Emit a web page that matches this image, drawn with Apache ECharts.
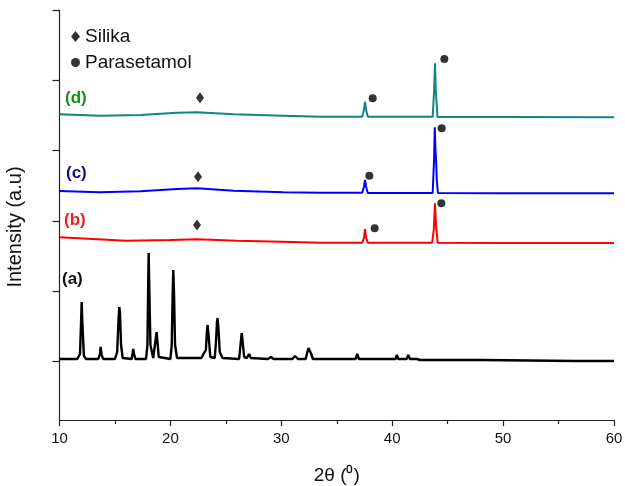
<!DOCTYPE html>
<html>
<head>
<meta charset="utf-8">
<script src="https://cdn.jsdelivr.net/npm/echarts@6/dist/echarts.min.js"></script>
<style>
  html, body { margin: 0; padding: 0; background: #fff; }
  #chart { width: 625px; height: 486px; }
</style>
</head>
<body>
<div id="chart"></div>
<script>
// X-ray diffraction patterns, stacked with a vertical offset per sample.
// Each entry is [2θ (degrees), intensity (a.u.)].

// (a) pure paracetamol
const patternA = [
  [10.0, 61], [11.6, 61], [11.85, 66], [11.95, 100], [12.0, 118], [12.07, 95], [12.2, 64], [12.4, 61],
  [13.5, 61], [13.64, 66], [13.71, 73], [13.8, 65], [13.95, 61],
  [15.0, 61], [15.2, 68], [15.32, 100], [15.39, 113], [15.45, 108], [15.55, 75], [15.7, 62],
  [16.5, 61], [16.6, 67], [16.65, 71], [16.72, 66], [16.85, 61],
  [17.8, 61], [17.93, 75], [17.99, 130], [18.04, 167], [18.1, 130], [18.2, 75], [18.45, 62],
  [18.6, 64], [18.71, 84], [18.76, 88], [18.82, 80], [18.95, 63],
  [20.0, 61], [20.12, 75], [20.2, 125], [20.26, 150], [20.32, 130], [20.42, 75], [20.6, 62],
  [22.8, 62], [22.98, 66], [23.06, 68], [23.2, 70], [23.3, 90], [23.36, 95], [23.44, 85], [23.6, 63],
  [24.0, 62], [24.12, 80], [24.2, 98], [24.25, 102], [24.32, 94], [24.45, 68], [24.7, 62],
  [26.2, 61], [26.32, 75], [26.43, 87], [26.5, 80], [26.65, 63],
  [26.9, 62], [27.09, 66], [27.25, 62],
  [28.8, 61], [29.07, 63], [29.3, 61],
  [31.0, 61], [31.24, 64], [31.5, 61],
  [32.2, 61], [32.35, 68], [32.45, 72], [32.6, 71], [32.7, 66], [32.85, 61],
  [35.9, 61], [36.04, 63], [36.2, 61], [36.7, 61], [36.85, 66], [37.0, 61],
  [37.55, 61], [37.64, 62], [37.75, 61], [38.35, 61], [38.45, 63], [38.6, 61],
  [38.8, 61], [38.9, 63], [39.05, 61],
  [40.3, 61], [40.42, 65], [40.55, 61], [41.3, 61], [41.45, 65], [41.6, 61],
  [42.25, 61], [42.35, 63], [42.5, 60],
  [45.0, 60], [45.15, 62], [45.3, 60], [46.1, 60], [46.2, 62], [46.35, 60],
  [47.8, 60], [47.9, 61], [48.1, 60], [56.5, 59], [56.6, 61], [56.75, 59], [60.0, 59]
];

// (b) silica loaded with paracetamol, sample 1
const patternB = [
  [10.0, 182.7], [13.0, 181], [16.0, 179.3], [20.0, 180], [22.4, 180.7], [26.0, 179.3],
  [30.0, 178.3], [33.5, 177.3], [37.3, 177.3], [37.45, 182], [37.55, 191], [37.65, 182], [37.8, 177.3],
  [43.6, 177.2], [43.75, 190], [43.86, 216.7], [43.95, 195], [44.1, 177.2], [50.0, 177], [60.0, 177]
];

// (c) silica loaded with paracetamol, sample 2
const patternC = [
  [10.0, 229], [13.6, 227.7], [17.3, 228.7], [20.6, 231], [22.4, 231.7], [25.7, 229.3],
  [30.2, 227.7], [33.5, 227.3], [37.3, 227.2], [37.45, 233], [37.55, 240], [37.65, 233], [37.8, 227],
  [43.65, 227], [43.78, 262], [43.84, 292.7], [43.9, 270], [43.95, 262], [44.02, 240], [44.12, 227],
  [50.0, 226.8], [60.0, 226.7]
];

// (d) silica loaded with paracetamol, sample 3
const patternD = [
  [10.0, 305.7], [13.6, 304.3], [17.3, 305], [20.6, 307.3], [22.4, 307.7], [25.7, 305.7],
  [30.2, 304.3], [33.5, 303.3], [37.3, 303.3], [37.45, 310], [37.55, 318.3], [37.65, 310], [37.8, 303.3],
  [43.65, 303.2], [43.78, 330], [43.86, 356.7], [43.93, 330], [44.08, 303.1], [50.0, 303], [60.0, 302.7]
];

// Reflection markers: silica hump and paracetamol peaks
const silikaMarks = [[22.67, 322.3], [22.49, 243.3], [22.40, 195]];
const parasetamolMarks = [[38.24, 321.7], [44.70, 361], [37.94, 244.3], [44.46, 291.7], [38.42, 191.7], [44.43, 216.7]];

// Intensity tick positions (no labels) and x tick spacing
const yTicks = [58.3, 128.7, 199.1, 269.5, 339.9, 410];
const xTickStep = 10;

const sampleLabels = ['(a)', '(b)', '(c)', '(d)'];
const sampleColors = ['#000000', '#ff0000', '#0000ff', '#138484'];
const labelColors = ['#111111', '#ee1c1c', '#101080', '#1c8c1c'];

const FONT = 'Liberation Sans, Arial, sans-serif';
const chart = echarts.init(document.getElementById('chart'), null, { renderer: 'canvas' });

const lineSeries = [patternA, patternB, patternC, patternD].map((data, i) => ({
  type: 'line',
  data: data,
  showSymbol: false,
  symbol: 'none',
  silent: true,
  lineStyle: { color: sampleColors[i], width: i === 0 ? 2.4 : 2 },
  z: 2
}));

chart.setOption({
  animation: false,
  backgroundColor: '#ffffff',
  grid: { left: 59.5, right: 11, top: 10, bottom: 66, containLabel: false, outerBoundsMode: 'none' },
  legend: {
    data: ['Silika', 'Parasetamol'],
    orient: 'vertical',
    left: 66,
    top: 22,
    itemWidth: 9,
    itemHeight: 11,
    itemGap: 7,
    textStyle: { fontFamily: FONT, fontSize: 19, color: '#111' }
  },
  xAxis: {
    type: 'value',
    min: 10,
    max: 60,
    interval: xTickStep,
    name: '2θ (⁰)',
    nameLocation: 'middle',
    nameGap: 46,
    nameTextStyle: { fontFamily: FONT, fontSize: 19, color: '#111' },
    axisLine: { show: true, onZero: false, lineStyle: { color: '#222', width: 1.2 } },
    axisTick: { show: true, inside: false, length: 6, lineStyle: { color: '#222', width: 1.2 } },
    minorTick: { show: true, splitNumber: 2, length: 4, lineStyle: { color: '#222', width: 1.2 } },
    axisLabel: { fontFamily: FONT, fontSize: 15, color: '#111', margin: 11 },
    splitLine: { show: false }
  },
  yAxis: {
    type: 'value',
    min: 0,
    max: 410,
    name: 'Intensity (a.u)',
    nameLocation: 'middle',
    nameGap: 34,
    nameTextStyle: { fontFamily: FONT, fontSize: 20, color: '#111', padding: [0, 24, 0, 0] },
    axisLine: { show: true, onZero: false, lineStyle: { color: '#222', width: 1.2 } },
    axisTick: { show: true, inside: false, length: 7, customValues: yTicks, lineStyle: { color: '#222', width: 1.2 } },
    axisLabel: { show: false },
    splitLine: { show: false }
  },
  series: lineSeries.concat([
    {
      name: 'Silika',
      type: 'scatter',
      symbol: 'diamond',
      symbolSize: [8, 11],
      itemStyle: { color: '#000' },
      data: silikaMarks,
      z: 3
    },
    {
      name: 'Parasetamol',
      type: 'scatter',
      symbol: 'circle',
      symbolSize: 8,
      itemStyle: { color: '#000' },
      data: parasetamolMarks,
      z: 3
    }
  ]),
  graphic: [
    { type: 'text', left: 62, top: 271, style: { text: sampleLabels[0], fill: labelColors[0], font: 'bold 17px ' + FONT } },
    { type: 'text', left: 64, top: 212, style: { text: sampleLabels[1], fill: labelColors[1], font: 'bold 17px ' + FONT } },
    { type: 'text', left: 66, top: 165, style: { text: sampleLabels[2], fill: labelColors[2], font: 'bold 17px ' + FONT } },
    { type: 'text', left: 65, top: 90, style: { text: sampleLabels[3], fill: labelColors[3], font: 'bold 17px ' + FONT } }
  ]
});
</script>
</body>
</html>
